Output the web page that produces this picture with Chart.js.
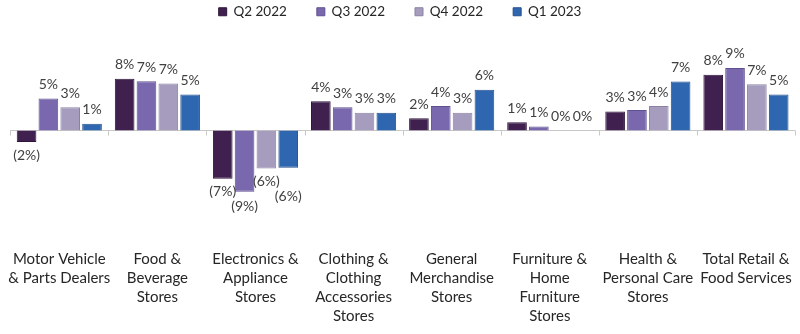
<!DOCTYPE html>
<html>
<head>
<meta charset="utf-8">
<script src="https://cdn.jsdelivr.net/npm/chart.js@4/dist/chart.umd.min.js"></script>
<style>
  html, body { margin: 0; padding: 0; background: #fff; }
  #chart-area { width: 800px; height: 334px; }
</style>
</head>
<body>
<div id="chart-area"><canvas id="c"></canvas></div>
<script>
const categories = [
  ['Motor Vehicle', '& Parts Dealers'],
  ['Food &', 'Beverage', 'Stores'],
  ['Electronics &', 'Appliance', 'Stores'],
  ['Clothing &', 'Clothing', 'Accessories', 'Stores'],
  ['General', 'Merchandise', 'Stores'],
  ['Furniture &', 'Home', 'Furniture', 'Stores'],
  ['Health &', 'Personal Care', 'Stores'],
  ['Total Retail &', 'Food Services']
];
const seriesNames = ['Q2 2022', 'Q3 2022', 'Q4 2022', 'Q1 2023'];
const q2_2022 = [-1.7, 7.6, -7.1, 4.3, 1.8, 1.2, 2.8, 8.2];
const q3_2022 = [4.7, 7.25, -9.0, 3.4, 3.6, 0.6, 3.0, 9.2];
const q4_2022 = [3.4, 6.9, -5.6, 2.6, 2.6, 0, 3.6, 6.8];
const q1_2023 = [1.0, 5.3, -5.5, 2.6, 6.0, 0, 7.2, 5.3];

const fills = ['#40204f', '#7a68ae', '#a69cbd', '#2f66b0'];
const edges = ['#2e1639', '#5f5090', '#8b81a3', '#24508c'];
const FONT = 'Lato, "Open Sans", sans-serif';

const fmtPct = function (v) {
  const r = Math.round(Math.abs(v));
  return v < 0 ? '(' + r + '%)' : r + '%';
};

// value labels above/below each bar, nudged down when they would collide
const barLabels = {
  id: 'barLabels',
  afterDatasetsDraw(chart) {
    const ctx = chart.ctx;
    const h = 15;
    ctx.save();
    ctx.font = '14px ' + FONT;
    ctx.fillStyle = '#404040';
    ctx.textAlign = 'center';
    ctx.textBaseline = 'top';
    const placed = [];
    chart.data.datasets.forEach((ds, i) => {
      chart.getDatasetMeta(i).data.forEach((bar, j) => {
        const v = ds.data[j];
        const txt = fmtPct(v);
        const w = ctx.measureText(txt).width;
        let top = v < 0 ? bar.y + 6 : bar.y - 6 - h;
        if (v < 0) {
          placed.forEach(b => {
            if (Math.abs(b.x - bar.x) < (b.w + w) / 2 && top < b.top + h && top + h > b.top) {
              top = b.top + h;
            }
          });
        }
        placed.push({ x: bar.x, w: w, top: top });
        ctx.fillText(txt, bar.x, top);
      });
    });
    ctx.restore();
  }
};

// category axis drawn through zero with small tick marks between groups
const zeroAxis = {
  id: 'zeroAxis',
  beforeDatasetsDraw(chart) {
    const ctx = chart.ctx;
    const x = chart.scales.x;
    const y0 = Math.round(chart.scales.y.getPixelForValue(0)) + 0.5;
    ctx.save();
    ctx.strokeStyle = '#c8c8c8';
    ctx.lineWidth = 1;
    ctx.beginPath();
    ctx.moveTo(x.left, y0);
    ctx.lineTo(x.right, y0);
    const step = (x.right - x.left) / categories.length;
    for (let k = 0; k <= categories.length; k++) {
      const px = Math.round(x.left + k * step) + 0.5;
      ctx.moveTo(px, y0);
      ctx.lineTo(px, y0 + 5);
    }
    ctx.stroke();
    ctx.restore();
  }
};

const seriesValues = [q2_2022, q3_2022, q4_2022, q1_2023];

new Chart(document.getElementById('c'), {
  type: 'bar',
  data: {
    labels: categories,
    datasets: seriesNames.map((name, i) => ({
      label: name,
      data: seriesValues[i],
      backgroundColor: fills[i],
      borderColor: edges[i],
      borderWidth: 1,
      categoryPercentage: 0.89,
      barPercentage: 0.9
    }))
  },
  options: {
    responsive: true,
    maintainAspectRatio: false,
    animation: false,
    layout: { padding: { left: 5, right: 5, top: -25, bottom: 0 } },
    plugins: {
      legend: {
        position: 'top',
        labels: {
          boxWidth: 8,
          boxHeight: 8,
          padding: 30,
          color: '#262626',
          font: { family: FONT, size: 13.5 }
        }
      },
      tooltip: { enabled: false }
    },
    scales: {
      x: {
        grid: { display: false },
        border: { display: false },
        ticks: {
          color: '#262626',
          maxRotation: 0,
          autoSkip: false,
          padding: 8,
          font: { family: FONT, size: 15, lineHeight: 1.27 }
        }
      },
      y: {
        display: false,
        min: -15.2,
        max: 15
      }
    }
  },
  plugins: [zeroAxis, barLabels]
});
</script>
</body>
</html>
